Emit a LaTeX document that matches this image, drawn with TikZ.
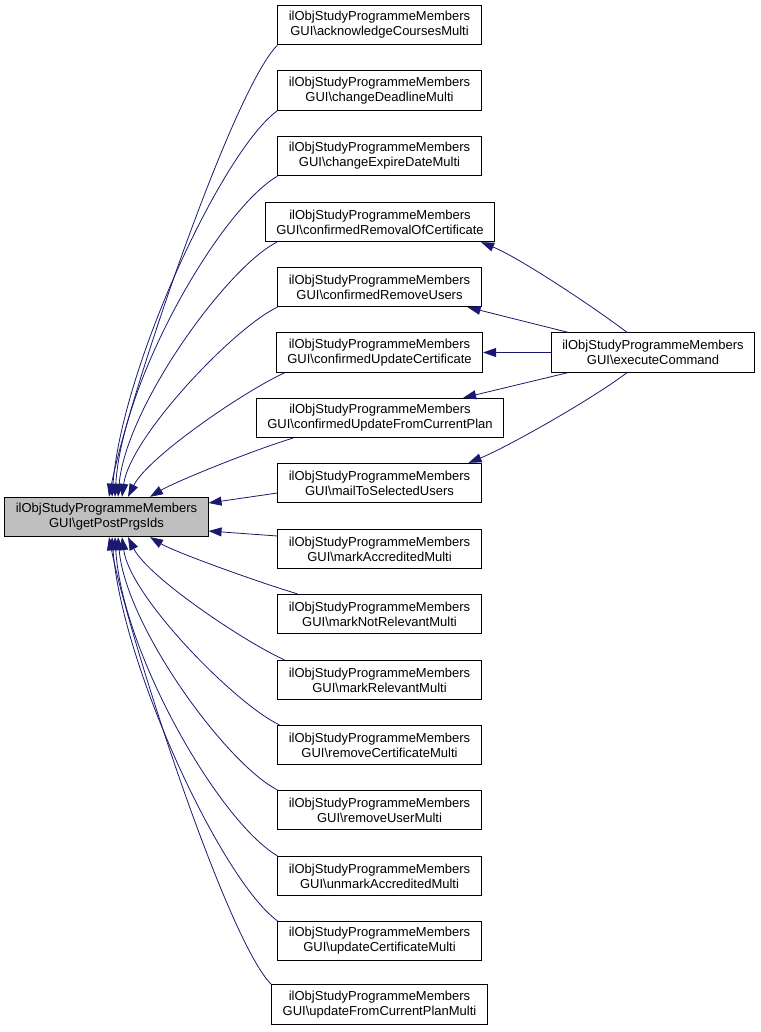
\documentclass[tikz,border=0pt]{standalone}
\usepackage{fontspec}
\setmainfont{Liberation Sans}
\usetikzlibrary{arrows.meta}
\definecolor{edgeblue}{HTML}{191970}

\begin{document}
\begin{tikzpicture}[x=1pt,y=1pt,
		func/.style={draw=black, line width=0.8pt, fill=white, align=center, inner xsep=11pt, inner ysep=0pt, minimum height=39.5pt, font=\fontsize{13}{15}\selectfont},
		calls/.style={draw=edgeblue, line width=0.8pt, -{Triangle[length=13pt,width=9pt]}, fill=none}]
		\useasboundingbox (0,0) rectangle (760,-1032);

		% the function itself
		\node[func, fill={rgb,255:red,191;green,191;blue,191}] (postids) at (106.5,-517) {ilObjStudyProgrammeMembers\\GUI\textbackslash getPostPrgsIds};
		\node[func] (execcmd) at (653,-352.5) {ilObjStudyProgrammeMembers\\GUI\textbackslash executeCommand};

		% callers
		\node[func] (ack) at (379.5,-25) {ilObjStudyProgrammeMembers\\GUI\textbackslash acknowledgeCoursesMulti};
		\node[func] (deadline) at (379.5,-90.5) {ilObjStudyProgrammeMembers\\GUI\textbackslash changeDeadlineMulti};
		\node[func] (expire) at (379.5,-156) {ilObjStudyProgrammeMembers\\GUI\textbackslash changeExpireDateMulti};
		\node[func] (removal) at (380,-222) {ilObjStudyProgrammeMembers\\GUI\textbackslash confirmedRemovalOfCertificate};
		\node[func] (removeusers) at (379.5,-287) {ilObjStudyProgrammeMembers\\GUI\textbackslash confirmedRemoveUsers};
		\node[func] (updcert) at (379.5,-352.5) {ilObjStudyProgrammeMembers\\GUI\textbackslash confirmedUpdateCertificate};
		\node[func] (updplan) at (380,-418) {ilObjStudyProgrammeMembers\\GUI\textbackslash confirmedUpdateFromCurrentPlan};
		\node[func] (mail) at (379.5,-483) {ilObjStudyProgrammeMembers\\GUI\textbackslash mailToSelectedUsers};
		\node[func] (accred) at (379.5,-549) {ilObjStudyProgrammeMembers\\GUI\textbackslash markAccreditedMulti};
		\node[func] (notrel) at (379.5,-614) {ilObjStudyProgrammeMembers\\GUI\textbackslash markNotRelevantMulti};
		\node[func] (rel) at (379.5,-680) {ilObjStudyProgrammeMembers\\GUI\textbackslash markRelevantMulti};
		\node[func] (remcert) at (379.5,-745) {ilObjStudyProgrammeMembers\\GUI\textbackslash removeCertificateMulti};
		\node[func] (remuser) at (379.5,-810) {ilObjStudyProgrammeMembers\\GUI\textbackslash removeUserMulti};
		\node[func] (unmark) at (379.5,-876) {ilObjStudyProgrammeMembers\\GUI\textbackslash unmarkAccreditedMulti};
		\node[func] (updcertm) at (379.5,-941) {ilObjStudyProgrammeMembers\\GUI\textbackslash updateCertificateMulti};
		\node[func] (updplanm) at (379.5,-1004.5) {ilObjStudyProgrammeMembers\\GUI\textbackslash updateFromCurrentPlanMulti};

		% upper callers
		\draw[calls] (ack.south west) .. controls +(-45,-45) and +(19,97) .. ([xshift=2.5]postids.north);
		\draw[calls] (deadline.south west) .. controls +(-55,-40) and +(10,130) .. ([xshift=5.5]postids.north);
		\draw[calls] (expire.south west) .. controls +(-58,-34) and +(7,116) .. ([xshift=8.5]postids.north);
		\draw[calls] ([xshift=12]removal.south west) .. controls +(-50,-25) and +(8,90) .. ([xshift=11.5]postids.north);
		\draw[calls] (removeusers.south west) .. controls +(-43,-20) and +(8,60) .. ([xshift=15.5]postids.north);
		\draw[calls] ([xshift=9]updcert.south west) .. controls +(-40,-18) and +(20,40) .. ([xshift=21.5]postids.north);
		\draw[calls] ([xshift=37]updplan.south west) .. controls +(-40,-12) and +(25,15) .. ([xshift=43.5]postids.north);

		% straight ones
		\draw[calls] ([yshift=-10]mail.west) -- ([yshift=14]postids.east);
		\draw[calls] ([yshift=13]accred.west) -- ([yshift=-14]postids.east);

		% lower callers
		\draw[calls] ([xshift=20]notrel.north west) .. controls +(-40,12) and +(25,-15) .. ([xshift=43.5]postids.south);
		\draw[calls] ([xshift=7]rel.north west) .. controls +(-40,18) and +(20,-40) .. ([xshift=21.5]postids.south);
		\draw[calls] ([xshift=2]remcert.north west) .. controls +(-43,20) and +(8,-60) .. ([xshift=15.5]postids.south);
		\draw[calls] (remuser.north west) .. controls +(-50,25) and +(8,-90) .. ([xshift=11.5]postids.south);
		\draw[calls] (unmark.north west) .. controls +(-58,34) and +(7,-116) .. ([xshift=8.5]postids.south);
		\draw[calls] (updcertm.north west) .. controls +(-55,40) and +(10,-130) .. ([xshift=5.5]postids.south);
		\draw[calls] (updplanm.north west) .. controls +(-45,45) and +(19,-97) .. ([xshift=2.5]postids.south);

		% executeCommand calls
		\draw[calls] ([xshift=-26]execcmd.north) .. controls +(-37,28) and +(37,-15) .. ([xshift=-14]removal.south east);
		\draw[calls] ([xshift=-85]execcmd.north) -- ([xshift=-14]removeusers.south east);
		\draw[calls] (execcmd.west) -- (updcert.east);
		\draw[calls] ([xshift=-85]execcmd.south) -- ([xshift=-41]updplan.north east);
		\draw[calls] ([xshift=-26]execcmd.south) .. controls +(-37,-28) and +(37,15) .. ([xshift=-13]mail.north east);
	\end{tikzpicture}
\end{document}
